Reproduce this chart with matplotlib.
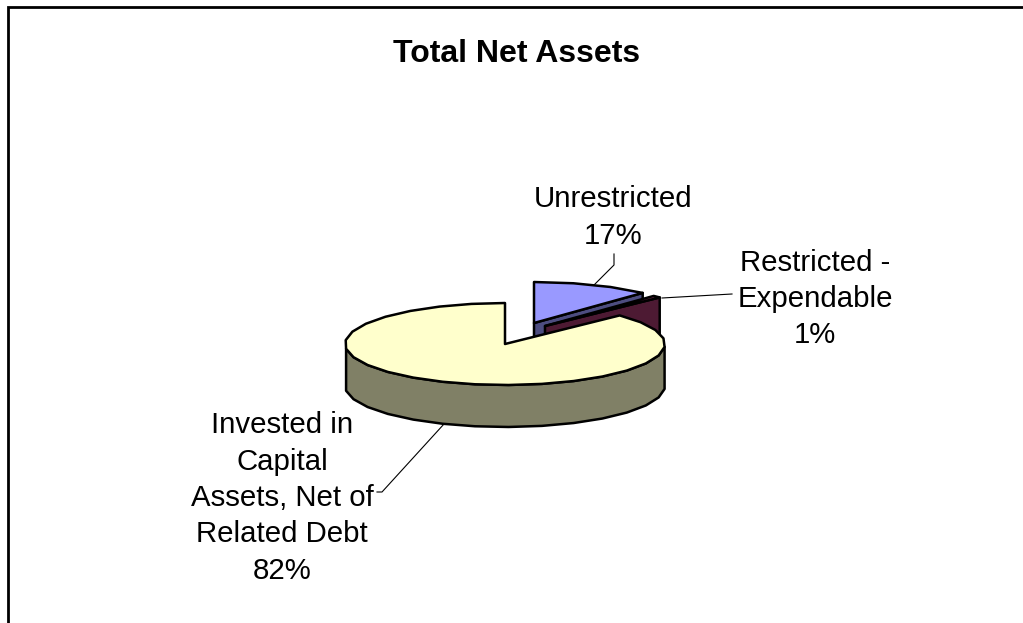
import numpy as np
import matplotlib
matplotlib.use('Agg')
import matplotlib.pyplot as plt

labels = ['Unrestricted\n17%', 'Restricted -\nExpendable\n1%', 'Invested in\nCapital\nAssets, Net of\nRelated Debt\n82%']
values = [17, 1, 82]

# pie geometry in pixels
cx, cy = 505, 344
rx, ry = 160, 41
depth = 42
tops = ['#9999FF', '#993366', '#FFFFCC']
sides = ['#4D4D80', '#4D1A33', '#808066']
offsets = [(29, -21), (40, -18), (0, 0)]

plt.rcParams['font.family'] = ['Liberation Sans', 'DejaVu Sans']

fig = plt.figure(figsize=(10.23, 6.23), dpi=100)
ax = fig.add_axes([0, 0, 1, 1])
ax.set_xlim(0, 1023)
ax.set_ylim(623, 0)
ax.axis('off')


def screen_angle(t):
    # t = degrees clockwise from 12 o'clock, bent a bit for the perspective
    return 90 - (t - 21 * np.sin(np.radians(t)))


def rim(a1, a2, dx, dy, step=12):
    n = max(int(abs(a2 - a1) / step), 1) + 1
    a = np.radians(np.linspace(a1, a2, n))
    return cx + dx + rx * np.cos(a), cy + dy - ry * np.sin(a)


stops = np.cumsum([0] + values) * 3.6
for i in range(len(values)):
    a1 = screen_angle(stops[i])
    a2 = screen_angle(stops[i + 1])
    dx, dy = offsets[i]
    x, y = rim(a1, a2, dx, dy)
    ax0, ay0 = cx + dx, cy + dy

    if i < 2:
        # cut face on the clockwise end
        ax.fill([ax0, x[-1], x[-1], ax0], [ay0, y[-1], y[-1] + depth, ay0 + depth],
                fc=sides[i], ec='k', lw=1.8, joinstyle='round', zorder=i * 3 + 1)
    else:
        # outer wall, front half only
        vis = np.sin(np.radians(np.linspace(a1, a2, len(x)))) <= 0.02
        ax.fill(np.r_[x[vis], x[vis][::-1]], np.r_[y[vis], y[vis][::-1] + depth],
                fc=sides[i], ec='k', lw=1.8, joinstyle='round', zorder=i * 3 + 2)
    # top
    ax.fill(np.r_[ax0, x], np.r_[ay0, y], fc=tops[i], ec='k', lw=1.8,
            joinstyle='round', zorder=i * 3 + 3)

# border, open at the right and bottom
ax.plot([7.5, 7.5, 1023], [623, 6.5, 6.5], color='k', lw=2, solid_joinstyle='miter')

ax.text(517, 54, 'Total Net Assets', ha='center', va='center', fontsize=23, fontweight='bold')
ax.text(613.5, 217.5, labels[0], ha='center', va='center', fontsize=21.2, linespacing=1.38)
ax.text(815, 299, labels[1], ha='center', va='center', fontsize=21.2, linespacing=1.38)
ax.text(282, 498, labels[2], ha='center', va='center', fontsize=21.2, linespacing=1.38)

# leader lines
ax.plot([594, 614, 614], [285, 265, 254], color='k', lw=0.8)
ax.plot([662, 732], [298, 294], color='k', lw=0.8)
ax.plot([444, 382, 377], [424, 492, 492], color='k', lw=0.8)

fig.savefig('out.png', dpi=100)
